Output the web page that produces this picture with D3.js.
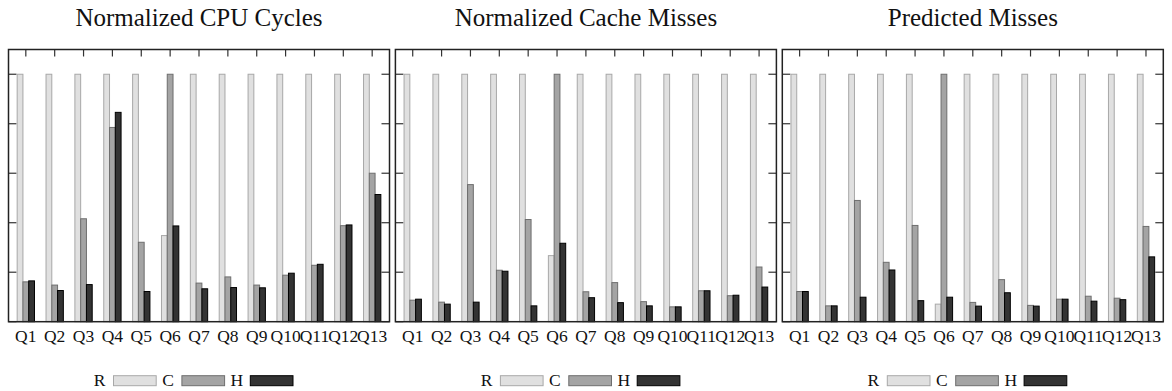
<!DOCTYPE html>
<html>
<head>
<meta charset="utf-8">
<script src="https://cdn.jsdelivr.net/npm/d3@7"></script>
<style>
  body { margin: 0; background: #fff; }
  svg { display: block; font-family: "Liberation Serif", "DejaVu Serif", serif; }
</style>
</head>
<body>
<div id="chart"></div>
<script>
// queries on the x axis
var queries = ["Q1","Q2","Q3","Q4","Q5","Q6","Q7","Q8","Q9","Q10","Q11","Q12","Q13"];
var seriesNames = ["R", "C", "H"];
var titles = ["Normalized CPU Cycles", "Normalized Cache Misses", "Predicted Misses"];
var yTicks = [0, 0.2, 0.4, 0.6, 0.8, 1.0];

// panel 1: normalized cpu cycles
var cpuR = [1, 1, 1, 1, 1, 0.348, 1, 1, 1, 1, 1, 1, 1];
var cpuC = [0.161, 0.148, 0.416, 0.785, 0.321, 1.0, 0.156, 0.181, 0.148, 0.188, 0.228, 0.388, 0.600];
var cpuH = [0.165, 0.126, 0.150, 0.846, 0.122, 0.387, 0.133, 0.138, 0.137, 0.196, 0.232, 0.391, 0.514];

// panel 2: normalized cache misses
var missR = [1, 1, 1, 1, 1, 0.267, 1, 1, 1, 1, 1, 1, 1];
var missC = [0.087, 0.079, 0.554, 0.208, 0.413, 1.0, 0.121, 0.158, 0.081, 0.060, 0.125, 0.105, 0.221];
var missH = [0.091, 0.071, 0.079, 0.204, 0.064, 0.317, 0.097, 0.077, 0.064, 0.060, 0.125, 0.107, 0.140];

// panel 3: predicted misses
var predR = [1, 1, 1, 1, 1, 0.071, 1, 1, 1, 1, 1, 1, 1];
var predC = [0.122, 0.064, 0.490, 0.240, 0.389, 1.0, 0.078, 0.170, 0.066, 0.091, 0.103, 0.095, 0.385];
var predH = [0.122, 0.064, 0.099, 0.209, 0.085, 0.099, 0.063, 0.117, 0.063, 0.091, 0.083, 0.089, 0.262];

var panels = [
  {title: titles[0], series: [cpuR, cpuC, cpuH]},
  {title: titles[1], series: [missR, missC, missH]},
  {title: titles[2], series: [predR, predC, predH]}
];

var fills = ["#e0e0e0", "#a4a4a4", "#333333"];
var strokes = ["#a8a8a8", "#6e6e6e", "#000000"];

var W = 1172, H = 391;
var panelStep = 386.9, panelW = 381;
var plotTop = 49.5, plotBottom = 321.7;

var svg = d3.select("#chart").append("svg")
    .attr("width", W)
    .attr("height", H);

var y = d3.scaleLinear()
    .domain([0, 1.1])
    .range([plotBottom, plotTop]);

var x = d3.scaleLinear()
    .domain([-0.6, queries.length - 1 + 0.6])
    .range([0, panelW]);

var barW = x(0.2) - x(0);

panels.forEach(function(p, pi) {
  var g = svg.append("g")
      .attr("transform", "translate(" + (8.5 + pi * panelStep) + ",0)");

  // title
  g.append("text")
      .attr("x", panelW / 2)
      .attr("y", 26)
      .attr("text-anchor", "middle")
      .style("font-size", "25px")
      .attr("fill", "#111")
      .text(p.title);

  // tick marks, drawn first so the bars sit on top
  var ticks = g.append("g").attr("stroke", "#333").attr("stroke-width", 1.2);
  ticks.selectAll(".yl")
    .data(yTicks)
    .enter().append("line")
      .attr("x1", 0).attr("x2", 8)
      .attr("y1", function(d) { return y(d); })
      .attr("y2", function(d) { return y(d); });
  ticks.selectAll(".yr")
    .data(yTicks)
    .enter().append("line")
      .attr("x1", panelW).attr("x2", panelW - 8)
      .attr("y1", function(d) { return y(d); })
      .attr("y2", function(d) { return y(d); });
  ticks.selectAll(".xt")
    .data(queries)
    .enter().append("line")
      .attr("x1", function(d, i) { return x(i); })
      .attr("x2", function(d, i) { return x(i); })
      .attr("y1", plotTop).attr("y2", plotTop + 7);
  ticks.selectAll(".xb")
    .data(queries)
    .enter().append("line")
      .attr("x1", function(d, i) { return x(i); })
      .attr("x2", function(d, i) { return x(i); })
      .attr("y1", plotBottom).attr("y2", plotBottom - 7);

  // bars
  p.series.forEach(function(vals, si) {
    g.selectAll(".bar" + si)
      .data(vals)
      .enter().append("rect")
        .attr("class", "bar" + si)
        .attr("x", function(d, i) { return x(i + (si - 1) * 0.2 - 0.1); })
        .attr("width", barW)
        .attr("y", function(d) { return y(d); })
        .attr("height", function(d) { return plotBottom - y(d); })
        .attr("fill", fills[si])
        .attr("stroke", strokes[si])
        .attr("stroke-width", 1);
  });

  // frame
  g.append("rect")
      .attr("x", 0).attr("y", plotTop)
      .attr("width", panelW).attr("height", plotBottom - plotTop)
      .attr("fill", "none")
      .attr("stroke", "#222")
      .attr("stroke-width", 1.5);

  // x labels
  g.selectAll(".xl")
    .data(queries)
    .enter().append("text")
      .attr("x", function(d, i) { return x(i); })
      .attr("y", 342)
      .attr("text-anchor", "middle")
      .style("font-size", "17.5px")
      .attr("fill", "#111")
      .text(function(d) { return d; });

  // legend
  var leg = g.selectAll(".leg")
    .data(seriesNames)
    .enter().append("g")
      .attr("transform", function(d, i) { return "translate(" + (105 + i * 68.4) + ",0)"; });
  leg.append("text")
      .attr("x", -19.7)
      .attr("y", 386)
      .style("font-size", "17.5px")
      .attr("fill", "#111")
      .text(function(d) { return d; });
  leg.append("rect")
      .attr("x", 0).attr("y", 375.7)
      .attr("width", 42.7).attr("height", 10)
      .attr("fill", function(d, i) { return fills[i]; })
      .attr("stroke", function(d, i) { return strokes[i]; });
});
</script>
</body>
</html>
